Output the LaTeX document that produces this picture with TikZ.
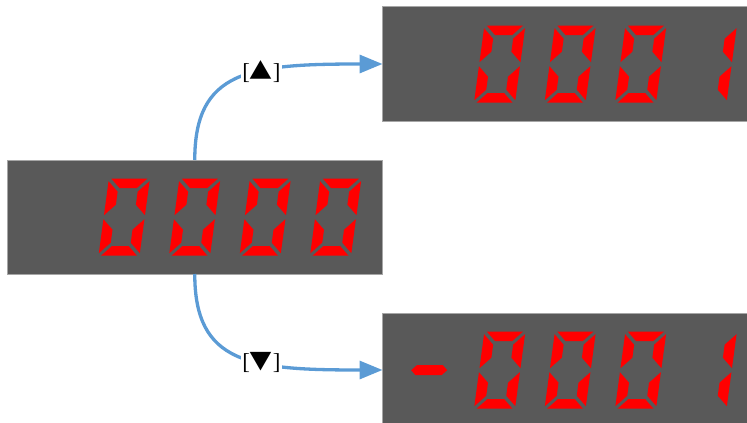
\documentclass[tikz,border=0pt]{standalone}
\usepackage{fontspec}
\setmainfont{Liberation Serif}
\newfontfamily\cjkfont{Noto Sans CJK JP}
\usetikzlibrary{arrows.meta}
\definecolor{boxgray}{HTML}{595959}
\definecolor{boxedge}{HTML}{A6A6A6}
\definecolor{segred}{HTML}{FF0000}
\definecolor{connblue}{HTML}{5B9BD5}
% seven-segment pieces, upright frame: width 41, height 77
\newcommand\sdSegA{\fill[segred] (2.5,77) -- (38.5,77) -- (29,67.5) -- (12,67.5) -- cycle;}
\newcommand\sdSegD{\fill[segred] (2.5,0) -- (38.5,0) -- (29,9.5) -- (12,9.5) -- cycle;}
\newcommand\sdSegF{\fill[segred] (0,74.5) -- (10.5,64) -- (10.5,51) -- (0,40.5) -- cycle;}
\newcommand\sdSegE{\fill[segred] (0,36.5) -- (10.5,26) -- (10.5,13) -- (0,2.5) -- cycle;}
\newcommand\sdSegB{\fill[segred] (41,74.5) -- (30.5,64) -- (30.5,51) -- (41,40.5) -- cycle;}
\newcommand\sdSegC{\fill[segred] (41,36.5) -- (30.5,26) -- (30.5,13) -- (41,2.5) -- cycle;}
\newcommand\sdSegG{\fill[segred] (2.5,38.5) -- (7.5,43.5) -- (33.5,43.5) -- (38.5,38.5) -- (33.5,33.5) -- (7.5,33.5) -- cycle;}
\newcommand\sdZero[2]{\begin{scope}[shift={(#1,#2)},xslant=0.135]\sdSegA\sdSegB\sdSegC\sdSegD\sdSegE\sdSegF\end{scope}}
\newcommand\sdOne[2]{\begin{scope}[shift={(#1,#2)},xslant=0.135]\sdSegB\sdSegC\end{scope}}
\newcommand\sdMinus[2]{\begin{scope}[shift={(#1,#2)},xslant=0.135]\sdSegG\end{scope}}
\begin{document}
\begin{tikzpicture}[x=1bp,y=1bp,
  dispbox/.style={draw=boxedge, line width=1bp, fill=boxgray, minimum width=375.5bp, minimum height=114bp, anchor=south west, inner sep=0pt, outer sep=0pt},
  conn/.style={draw=connblue, line width=3.3bp, -{Triangle[length=23bp,width=18bp]}},
  keylabel/.style={fill=white, inner sep=1bp, font=\fontsize{23}{27}\selectfont}]
\useasboundingbox (0,0) rectangle (747,422);
\clip (0,0) rectangle (747,422);
\node[dispbox] (L) at (7,148) {};
\node[dispbox] (T) at (382.5,301) {};
\node[dispbox] (B) at (382.5,-5) {};
% left display 0000
\sdZero{98.5}{166.3}\sdZero{169}{166.3}\sdZero{239.5}{166.3}\sdZero{310}{166.3}
% top display 0001
\sdZero{474}{319.3}\sdZero{544.5}{319.3}\sdZero{615}{319.3}\sdOne{685.5}{319.3}
% bottom display -0001
\sdMinus{403.5}{13.3}\sdZero{474}{13.3}\sdZero{544.5}{13.3}\sdZero{615}{13.3}\sdOne{685.5}{13.3}
\draw[conn] (L.north) .. controls +(0,90) and +(-132.5,0) .. (T.west) node[keylabel,pos=0.61] (up) {[{\cjkfont ▲}]};
\draw[conn] (L.south) .. controls +(0,-90) and +(-132.5,0) .. (B.west) node[keylabel,pos=0.61] (dn) {[{\cjkfont ▼}]};
\end{tikzpicture}
\end{document}
